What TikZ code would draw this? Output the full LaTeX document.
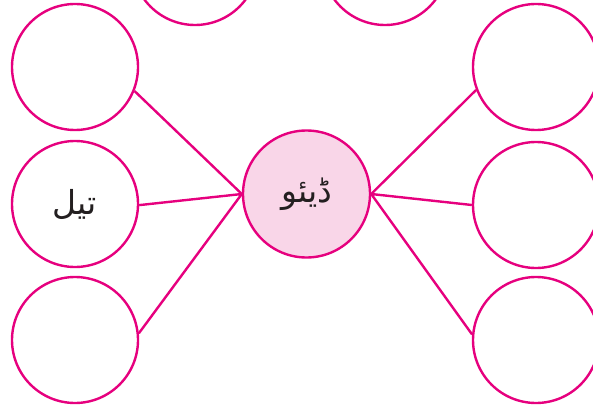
\documentclass[tikz,border=0pt]{standalone}
\usepackage{fontspec}
\newfontfamily\arabicfont[Script=Arabic]{DejaVu Sans}
\TeXXeTstate=1
\usepackage{tikz}
\definecolor{rim}{RGB}{230,0,126}
\definecolor{blush}{RGB}{249,214,232}
\definecolor{ink}{RGB}{35,31,32}
\tikzset{
  bubble/.style={circle, draw=rim, line width=2.4pt, fill=white, minimum size=126pt, inner sep=0pt,
    text=ink, font=\fontsize{33}{38}\selectfont\arabicfont},
  hub/.style={bubble, fill=blush, minimum size=127pt},
  spoke/.style={draw=rim, line width=2.4pt}
}

\begin{document}
\begin{tikzpicture}[x=1pt, y=-1pt]
        \useasboundingbox (0,0) rectangle (593,406);

        \node[hub] (C) at (306.5,194) {\beginR ڈیئو\endR};

        \node[bubble] (T1) at (195,-38) {};
        \node[bubble] (T2) at (385,-38) {};

        \node[bubble] (L1) at (75,67)  {};
        \node[bubble] (L2) at (75,204) {\beginR تیل\endR};
        \node[bubble] (L3) at (75,340) {};

        \node[bubble] (R1) at (536,67)  {};
        \node[bubble] (R2) at (536,205) {};
        \node[bubble] (R3) at (536,340) {};

        \draw[spoke] (C.west) -- (L1.-22)
                     (C.west) -- (L2.-1)
                     (C.west) -- (L3.6);
        \draw[spoke] (C.east) -- (R1.-159)
                     (C.east) -- (R2.180)
                     (C.east) -- (R3.175);
      \end{tikzpicture}
\end{document}
